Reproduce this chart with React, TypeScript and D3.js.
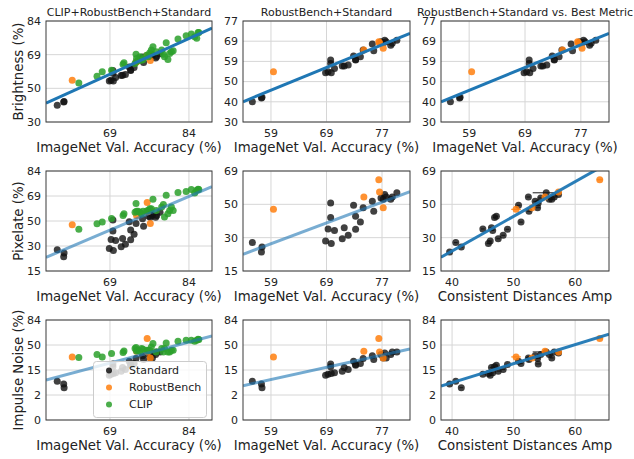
import React from "react";
import * as d3 from "d3";

// ---------------- data (percentages) ----------------
const stdAcc = [56.6, 58.2, 58.3, 69.0, 69.4, 69.8, 69.8, 69.9, 70.4, 71.6, 71.9, 72.5, 73.3, 73.6, 73.6, 74.3, 74.7, 76.0, 76.2, 77.2, 77.5, 77.7, 77.9, 78.5, 78.7, 79.3];
const stdBrightness = [40.1, 42.0, 42.3, 54.3, 54.8, 60.5, 58.9, 54.3, 56.4, 57.6, 57.7, 58.1, 62.4, 60.5, 60.8, 62.1, 65.2, 67.9, 64.9, 68.9, 68.5, 69.6, 68.9, 67.4, 68.2, 69.6];
const stdPixelate = [28.3, 23.7, 26.1, 29.1, 35.6, 50.8, 42.1, 27.8, 34.8, 30.3, 36.3, 32.1, 49.4, 42.9, 35.4, 39.5, 48.0, 51.8, 45.8, 53.8, 53.0, 55.8, 54.4, 53.0, 54.4, 56.9];
const stdImpulse = [7.4, 5.9, 4.4, 11.4, 12.2, 22.5, 19.1, 12.7, 13.3, 14.8, 18.4, 16.4, 25.8, 21.0, 21.8, 22.9, 29.4, 33.2, 28.1, 35.1, 30.3, 37.6, 30.3, 35.1, 39.1, 39.1];
const stdCDA = [40.6, 39.6, 41.5, 46.2, 45.0, 54.0, 46.9, 45.9, 46.6, 47.5, 46.4, 48.3, 50.8, 47.2, 49.0, 51.2, 53.9, 53.5, 52.5, 54.4, 56.2, 57.3, 52.4, 55.8, 56.6, 55.3];
const stdCDAErr = [0.3, 0.3, 0.3, 0.3, 0.3, 0.4, 0.3, 0.3, 0.3, 0.3, 0.3, 0.3, 0.3, 0.3, 0.3, 0.3, 0.4, 0.3, 0.3, 0.4, 0.3, 0.3, 0.3, 0.3, 0.3, 2.2];

const robAcc = [60.3, 74.8, 76.9, 77.0, 77.5];
const robBrightness = [54.8, 65.2, 68.9, 68.5, 66.0];
const robPixelate = [47.0, 54.4, 64.4, 57.3, 48.0];
const robImpulse = [31.7, 40.2, 60.1, 39.1, 30.3];
const robCDA = [50.4, 55.1, 64.0, 57.3, 53.0];
const robCDAErr = [0.8, 0.5, 0.5, 0.5, 0.5];

const clipAcc = [61.9, 66.2, 67.4, 69.5, 72.0, 72.2, 74.5, 74.7, 74.8, 75.1, 75.5, 75.8, 76.1, 76.8, 77.1, 77.4, 77.7, 78.0, 78.6, 79.6, 79.9, 80.1, 80.4, 80.7, 81.0, 81.3, 81.6, 82.4, 83.7, 84.5, 85.0, 85.3, 85.5, 85.6];
const clipBrightness = [53.2, 57.1, 59.7, 60.6, 64.0, 64.8, 64.4, 69.4, 67.1, 65.9, 68.0, 66.2, 66.6, 68.9, 68.0, 70.1, 71.5, 73.1, 70.6, 71.5, 69.4, 68.0, 75.1, 66.6, 69.8, 70.6, 71.2, 76.8, 78.3, 79.0, 77.8, 77.1, 79.6, 79.7];
const clipPixelate = [43.4, 47.9, 49.2, 51.9, 54.3, 55.8, 56.9, 63.6, 57.7, 57.7, 56.9, 55.8, 57.7, 57.9, 58.4, 59.7, 59.7, 66.8, 58.4, 61.0, 63.0, 53.2, 69.6, 55.8, 58.4, 61.0, 58.4, 71.5, 72.3, 73.5, 71.2, 73.0, 73.7, 73.5];
const clipImpulse = [30.8, 35.1, 31.7, 36.6, 38.1, 40.7, 44.3, 45.9, 40.7, 41.7, 40.2, 44.3, 43.3, 41.7, 41.7, 41.7, 47.0, 52.2, 39.1, 44.3, 39.1, 44.3, 53.3, 39.1, 39.1, 41.7, 41.7, 56.0, 57.5, 57.5, 56.0, 57.5, 59.1, 58.6];

// probit-scale tick positions and their labels
const accTicksWide = [0.5, 1.0];
const accTickLabelsWide = ["69", "84"];
const accTicksNarrow = [0.25, 0.5, 0.75];
const accTickLabelsNarrow = ["59", "69", "77"];
const cdaTicks = [40, 50, 60];
const cdaTickLabels = ["40", "50", "60"];
const brightTicksWide = [-0.5, 0, 0.5, 1];
const brightTickLabelsWide = ["30", "50", "69", "84"];
const brightTicksNarrow = [-0.5, -0.25, 0, 0.25, 0.5, 0.75];
const brightTickLabelsNarrow = ["30", "40", "50", "59", "69", "77"];
const pixTicksWide = [-1, -0.5, 0, 0.5, 1];
const pixTickLabelsWide = ["15", "30", "50", "69", "84"];
const pixTicksNarrow = [-1, -0.5, 0, 0.5];
const pixTickLabelsNarrow = ["15", "30", "50", "69"];
const impTicks = [-3, -2, -1, 0, 1];
const impTickLabels = ["0", "2", "15", "50", "84"];

// fitted lines (probit y = slope * x' + intercept), per panel row-major
const fitSlopes = [1.06, 1.126, 1.126, 1.345, 1.249, 0.052, 1.675, 1.95, 0.0757];
const fitIntercepts = [-0.319, -0.389, -0.389, -0.855, -0.904, -2.78, -1.559, -1.869, -4.53];
const fitAlpha = [1, 1, 1, 0.6, 0.6, 0.95, 0.6, 0.62, 0.95];

const legendLabels = ["Standard", "RobustBench", "CLIP"];
const seriesColors = ["#111111", "#ff7f0e", "#2ca02c"];

// ---------------- helpers ----------------
function probit(pct: number): number {
  const p = pct / 100;
  const a = [-3.969683028665376e1, 2.209460984245205e2, -2.759285104469687e2, 1.38357751867269e2, -3.066479806614716e1, 2.506628277459239];
  const b = [-5.447609879822406e1, 1.615858368580409e2, -1.556989798598866e2, 6.680131188771972e1, -1.328068155288572e1];
  const c = [-7.784894002430293e-3, -3.223964580411365e-1, -2.400758277161838, -2.549732539343734, 4.374664141464968, 2.938163982698783];
  const d = [7.784695709041462e-3, 3.224671290700398e-1, 2.445134137142996, 3.754408661907416];
  const pl = 0.02425;
  if (p < pl) {
    const q = Math.sqrt(-2 * Math.log(p));
    return (((((c[0] * q + c[1]) * q + c[2]) * q + c[3]) * q + c[4]) * q + c[5]) / ((((d[0] * q + d[1]) * q + d[2]) * q + d[3]) * q + 1);
  }
  if (p <= 1 - pl) {
    const q = p - 0.5;
    const r = q * q;
    return ((((((a[0] * r + a[1]) * r + a[2]) * r + a[3]) * r + a[4]) * r + a[5]) * q) / (((((b[0] * r + b[1]) * r + b[2]) * r + b[3]) * r + b[4]) * r + 1);
  }
  const q = Math.sqrt(-2 * Math.log(1 - p));
  return -(((((c[0] * q + c[1]) * q + c[2]) * q + c[3]) * q + c[4]) * q + c[5]) / ((((d[0] * q + d[1]) * q + d[2]) * q + d[3]) * q + 1);
}

const FONT = "DejaVu Sans, Liberation Sans, sans-serif";
const colX = [[46, 212], [243, 410], [441, 609]];
const rowY = [[21, 122], [171, 271], [320, 420]];

type Panel = {
  r: number;
  c: number;
  title?: string;
  xKind: "acc" | "cda";
  xDom: number[];
  yDom: number[];
  xTicks: number[];
  xLabels: string[];
  yTicks: number[];
  yLabels: string[];
  stdY: number[];
  robY: number[];
  clipY?: number[];
  xlabel: string;
  ylabel?: string;
  legend?: boolean;
};

const accLabel = "ImageNet Val. Accuracy (%)";
const cdaLabel = "Consistent Distances Amp";

const panels: Panel[] = [
  { r: 0, c: 0, title: "CLIP+RobustBench+Standard", xKind: "acc", xDom: [0.095, 1.146], yDom: [-0.5, 1], xTicks: accTicksWide, xLabels: accTickLabelsWide, yTicks: brightTicksWide, yLabels: brightTickLabelsWide, stdY: stdBrightness, robY: robBrightness, clipY: clipBrightness, xlabel: accLabel, ylabel: "Brightness (%)" },
  { r: 0, c: 1, title: "RobustBench+Standard", xKind: "acc", xDom: [0.124, 0.876], yDom: [-0.5, 0.75], xTicks: accTicksNarrow, xLabels: accTickLabelsNarrow, yTicks: brightTicksNarrow, yLabels: brightTickLabelsNarrow, stdY: stdBrightness, robY: robBrightness, xlabel: accLabel },
  { r: 0, c: 2, title: "RobustBench+Standard vs. Best Metric", xKind: "acc", xDom: [0.124, 0.876], yDom: [-0.5, 0.75], xTicks: accTicksNarrow, xLabels: accTickLabelsNarrow, yTicks: brightTicksNarrow, yLabels: brightTickLabelsNarrow, stdY: stdBrightness, robY: robBrightness, xlabel: accLabel },
  { r: 1, c: 0, xKind: "acc", xDom: [0.095, 1.146], yDom: [-1, 1], xTicks: accTicksWide, xLabels: accTickLabelsWide, yTicks: pixTicksWide, yLabels: pixTickLabelsWide, stdY: stdPixelate, robY: robPixelate, clipY: clipPixelate, xlabel: accLabel, ylabel: "Pixelate (%)" },
  { r: 1, c: 1, xKind: "acc", xDom: [0.124, 0.876], yDom: [-1, 0.5], xTicks: accTicksNarrow, xLabels: accTickLabelsNarrow, yTicks: pixTicksNarrow, yLabels: pixTickLabelsNarrow, stdY: stdPixelate, robY: robPixelate, xlabel: accLabel },
  { r: 1, c: 2, xKind: "cda", xDom: [38.2, 65.5], yDom: [-1, 0.5], xTicks: cdaTicks, xLabels: cdaTickLabels, yTicks: pixTicksNarrow, yLabels: pixTickLabelsNarrow, stdY: stdPixelate, robY: robPixelate, xlabel: cdaLabel },
  { r: 2, c: 0, xKind: "acc", xDom: [0.095, 1.146], yDom: [-3, 1], xTicks: accTicksWide, xLabels: accTickLabelsWide, yTicks: impTicks, yLabels: impTickLabels, stdY: stdImpulse, robY: robImpulse, clipY: clipImpulse, xlabel: accLabel, ylabel: "Impulse Noise (%)", legend: true },
  { r: 2, c: 1, xKind: "acc", xDom: [0.124, 0.876], yDom: [-3, 1], xTicks: accTicksNarrow, xLabels: accTickLabelsNarrow, yTicks: impTicks, yLabels: impTickLabels, stdY: stdImpulse, robY: robImpulse, xlabel: accLabel },
  { r: 2, c: 2, xKind: "cda", xDom: [38.2, 65.5], yDom: [-3, 1], xTicks: cdaTicks, xLabels: cdaTickLabels, yTicks: impTicks, yLabels: impTickLabels, stdY: stdImpulse, robY: robImpulse, xlabel: cdaLabel },
];

function PanelView({ p, idx }: { p: Panel; idx: number }) {
  const [x0, x1] = colX[p.c];
  const [y0, y1] = rowY[p.r];
  const xs = d3.scaleLinear().domain(p.xDom).range([x0, x1]);
  const ys = d3.scaleLinear().domain(p.yDom).range([y1, y0]);
  const tx = (v: number) => (p.xKind === "acc" ? probit(v) : v);
  const stdX = p.xKind === "acc" ? stdAcc : stdCDA;
  const robX = p.xKind === "acc" ? robAcc : robCDA;
  const clipId = `clip${idx}`;
  const m = fitSlopes[idx];
  const b = fitIntercepts[idx];
  const line = d3.line<number>().x((v) => xs(v)).y((v) => ys(m * v + b));
  const cx = (x0 + x1) / 2;
  const cy = (y0 + y1) / 2;
  const R = 3.5;

  const renderErr = (xv: number[], yv: number[], err: number[], color: string) =>
    xv.map((v, i) => (
      <line key={"e" + i} x1={xs(v - err[i])} x2={xs(v + err[i])} y1={ys(probit(yv[i]))} y2={ys(probit(yv[i]))} stroke={color} strokeWidth={1.2} strokeOpacity={0.8} />
    ));

  return (
    <g>
      <defs>
        <clipPath id={clipId}>
          <rect x={x0} y={y0} width={x1 - x0} height={y1 - y0} />
        </clipPath>
      </defs>
      <rect x={x0} y={y0} width={x1 - x0} height={y1 - y0} fill="#ffffff" />
      {p.xTicks.map((t, i) => (
        <line key={"gx" + i} x1={xs(t)} x2={xs(t)} y1={y0} y2={y1} stroke="#d6d6d6" strokeWidth={1} />
      ))}
      {p.yTicks.map((t, i) => (
        <line key={"gy" + i} x1={x0} x2={x1} y1={ys(t)} y2={ys(t)} stroke="#d6d6d6" strokeWidth={1} />
      ))}
      <g clipPath={`url(#${clipId})`}>
        {p.xKind === "cda" && renderErr(stdX, p.stdY, stdCDAErr, seriesColors[0])}
        {p.xKind === "cda" && renderErr(robX, p.robY, robCDAErr, seriesColors[1])}
        {stdX.map((v, i) => (
          <circle key={"s" + i} cx={xs(tx(v))} cy={ys(probit(p.stdY[i]))} r={R} fill={seriesColors[0]} fillOpacity={0.8} />
        ))}
        {robX.map((v, i) => (
          <circle key={"r" + i} cx={xs(tx(v))} cy={ys(probit(p.robY[i]))} r={R} fill={seriesColors[1]} fillOpacity={0.85} />
        ))}
        {p.clipY &&
          clipAcc.map((v, i) => (
            <circle key={"c" + i} cx={xs(probit(v))} cy={ys(probit(p.clipY![i]))} r={R} fill={seriesColors[2]} fillOpacity={0.85} />
          ))}
        <path d={line(p.xDom) || ""} fill="none" stroke="#1f77b4" strokeOpacity={fitAlpha[idx]} strokeWidth={3} />
      </g>
      <rect x={x0} y={y0} width={x1 - x0} height={y1 - y0} fill="none" stroke="#3a3a3a" strokeWidth={1} />
      {p.xTicks.map((t, i) => (
        <text key={"tx" + i} x={xs(t)} y={y1 + 15} fontSize={11} textAnchor="middle" fill="#222" fontFamily={FONT}>
          {p.xLabels[i]}
        </text>
      ))}
      {p.yTicks.map((t, i) => (
        <text key={"ty" + i} x={x0 - 5} y={ys(t)} dy="0.35em" fontSize={11} textAnchor="end" fill="#222" fontFamily={FONT}>
          {p.yLabels[i]}
        </text>
      ))}
      {p.title && (
        <text x={cx} y={y0 - 5} fontSize={11} textAnchor="middle" fill="#222" fontFamily={FONT}>
          {p.title}
        </text>
      )}
      <text x={cx} y={y1 + 30} fontSize={13.3} textAnchor="middle" fill="#222" fontFamily={FONT}>
        {p.xlabel}
      </text>
      {p.ylabel && (
        <text transform={`translate(22.5,${cy}) rotate(-90)`} fontSize={13.3} textAnchor="middle" fill="#222" fontFamily={FONT}>
          {p.ylabel}
        </text>
      )}
      {p.legend && (
        <g>
          <rect x={93.5} y={361.5} width={113} height={56} rx={3} fill="#ffffff" fillOpacity={0.8} stroke="#cccccc" />
          {legendLabels.map((l, i) => (
            <g key={"lg" + i}>
              <circle cx={109} cy={370.5 + i * 17} r={3} fill={seriesColors[i]} fillOpacity={0.85} />
              <text x={129} y={370.5 + i * 17} dy="0.35em" fontSize={11} fill="#222" fontFamily={FONT}>
                {l}
              </text>
            </g>
          ))}
        </g>
      )}
    </g>
  );
}

export default function App() {
  return (
    <div style={{ position: "absolute", left: 0, top: 0 }}>
      <svg width={634} height={459} style={{ display: "block" }}>
        <rect x={0} y={0} width={634} height={459} fill="#ffffff" />
        {panels.map((p, i) => (
          <PanelView key={i} p={p} idx={i} />
        ))}
      </svg>
    </div>
  );
}
